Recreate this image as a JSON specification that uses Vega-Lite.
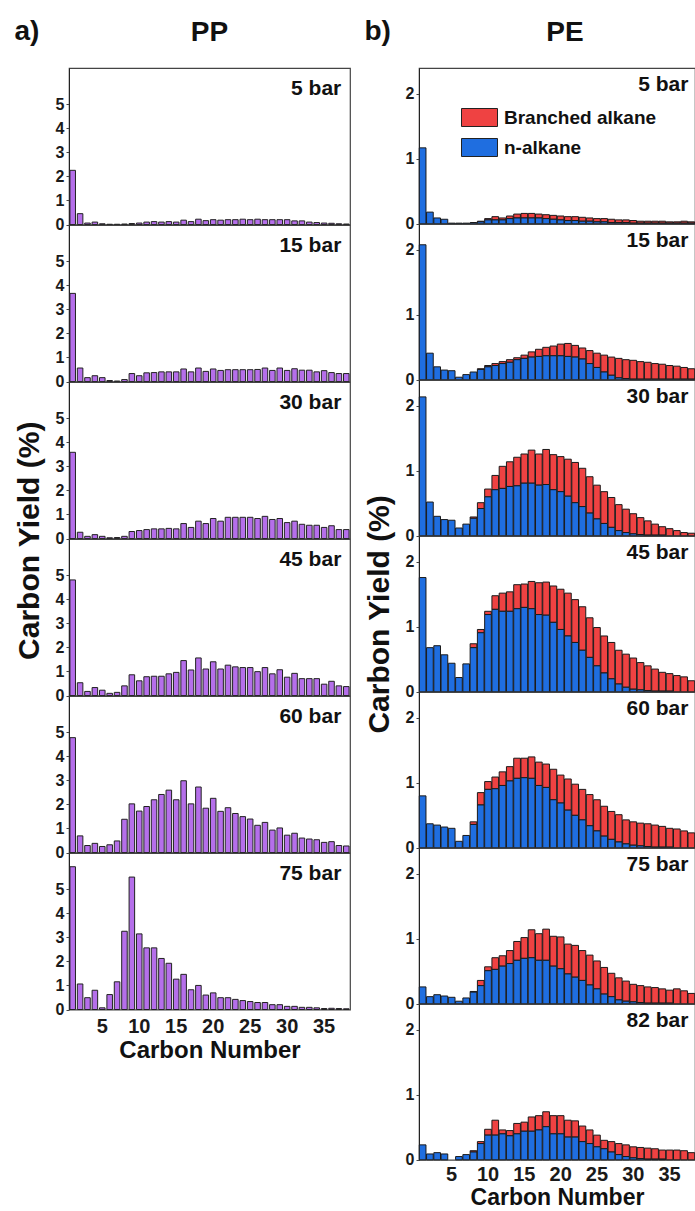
{
"$schema": "https://vega.github.io/schema/vega-lite/v6.json",
"padding": {"left": 14, "top": 18, "right": 0, "bottom": 0},
"background": "white",
"config": {
  "font": "Liberation Sans",
  "view": {"stroke": "#444", "strokeWidth": 1.2},
  "axis": {"grid": false, "labelFontWeight": "bold", "labelColor": "#1a1a1a", "domainColor": "#222", "tickColor": "#444", "tickSize": 3, "labelPadding": 2, "titleColor": "#111"}
},
"datasets": {
"pp5": [{"c":1,"y":2.25},{"c":2,"y":0.45},{"c":3,"y":0.06},{"c":4,"y":0.1},{"c":5,"y":0.03},{"c":6,"y":0.01},{"c":7,"y":0.01},{"c":8,"y":0.02},{"c":9,"y":0.04},{"c":10,"y":0.06},{"c":11,"y":0.1},{"c":12,"y":0.12},{"c":13,"y":0.1},{"c":14,"y":0.12},{"c":15,"y":0.1},{"c":16,"y":0.18},{"c":17,"y":0.12},{"c":18,"y":0.22},{"c":19,"y":0.16},{"c":20,"y":0.2},{"c":21,"y":0.18},{"c":22,"y":0.2},{"c":23,"y":0.2},{"c":24,"y":0.22},{"c":25,"y":0.2},{"c":26,"y":0.22},{"c":27,"y":0.2},{"c":28,"y":0.2},{"c":29,"y":0.2},{"c":30,"y":0.2},{"c":31,"y":0.15},{"c":32,"y":0.15},{"c":33,"y":0.1},{"c":34,"y":0.08},{"c":35,"y":0.06},{"c":36,"y":0.05},{"c":37,"y":0.03},{"c":38,"y":0.02}],
"pp15": [{"c":1,"y":3.66},{"c":2,"y":0.56},{"c":3,"y":0.16},{"c":4,"y":0.24},{"c":5,"y":0.16},{"c":6,"y":0.04},{"c":7,"y":0.02},{"c":8,"y":0.08},{"c":9,"y":0.33},{"c":10,"y":0.24},{"c":11,"y":0.36},{"c":12,"y":0.37},{"c":13,"y":0.4},{"c":14,"y":0.4},{"c":15,"y":0.4},{"c":16,"y":0.52},{"c":17,"y":0.4},{"c":18,"y":0.56},{"c":19,"y":0.42},{"c":20,"y":0.52},{"c":21,"y":0.46},{"c":22,"y":0.49},{"c":23,"y":0.49},{"c":24,"y":0.49},{"c":25,"y":0.49},{"c":26,"y":0.5},{"c":27,"y":0.56},{"c":28,"y":0.46},{"c":29,"y":0.56},{"c":30,"y":0.46},{"c":31,"y":0.53},{"c":32,"y":0.47},{"c":33,"y":0.47},{"c":34,"y":0.4},{"c":35,"y":0.45},{"c":36,"y":0.37},{"c":37,"y":0.33},{"c":38,"y":0.33}],
"pp30": [{"c":1,"y":3.58},{"c":2,"y":0.26},{"c":3,"y":0.09},{"c":4,"y":0.16},{"c":5,"y":0.09},{"c":6,"y":0.03},{"c":7,"y":0.04},{"c":8,"y":0.09},{"c":9,"y":0.29},{"c":10,"y":0.33},{"c":11,"y":0.37},{"c":12,"y":0.4},{"c":13,"y":0.4},{"c":14,"y":0.42},{"c":15,"y":0.4},{"c":16,"y":0.62},{"c":17,"y":0.46},{"c":18,"y":0.72},{"c":19,"y":0.62},{"c":20,"y":0.83},{"c":21,"y":0.72},{"c":22,"y":0.88},{"c":23,"y":0.88},{"c":24,"y":0.88},{"c":25,"y":0.88},{"c":26,"y":0.83},{"c":27,"y":0.92},{"c":28,"y":0.79},{"c":29,"y":0.83},{"c":30,"y":0.66},{"c":31,"y":0.72},{"c":32,"y":0.59},{"c":33,"y":0.55},{"c":34,"y":0.55},{"c":35,"y":0.46},{"c":36,"y":0.53},{"c":37,"y":0.37},{"c":38,"y":0.37}],
"pp45": [{"c":1,"y":4.8},{"c":2,"y":0.53},{"c":3,"y":0.17},{"c":4,"y":0.33},{"c":5,"y":0.22},{"c":6,"y":0.09},{"c":7,"y":0.13},{"c":8,"y":0.4},{"c":9,"y":0.86},{"c":10,"y":0.61},{"c":11,"y":0.78},{"c":12,"y":0.8},{"c":13,"y":0.8},{"c":14,"y":0.9},{"c":15,"y":0.96},{"c":16,"y":1.45},{"c":17,"y":1.06},{"c":18,"y":1.56},{"c":19,"y":1.1},{"c":20,"y":1.4},{"c":21,"y":1.1},{"c":22,"y":1.26},{"c":23,"y":1.19},{"c":24,"y":1.16},{"c":25,"y":1.16},{"c":26,"y":0.99},{"c":27,"y":1.16},{"c":28,"y":0.9},{"c":29,"y":1.07},{"c":30,"y":0.76},{"c":31,"y":0.92},{"c":32,"y":0.7},{"c":33,"y":0.7},{"c":34,"y":0.7},{"c":35,"y":0.47},{"c":36,"y":0.59},{"c":37,"y":0.4},{"c":38,"y":0.37}],
"pp60": [{"c":1,"y":4.77},{"c":2,"y":0.69},{"c":3,"y":0.29},{"c":4,"y":0.38},{"c":5,"y":0.25},{"c":6,"y":0.32},{"c":7,"y":0.48},{"c":8,"y":1.38},{"c":9,"y":2.02},{"c":10,"y":1.72},{"c":11,"y":1.91},{"c":12,"y":2.19},{"c":13,"y":2.41},{"c":14,"y":2.59},{"c":15,"y":2.19},{"c":16,"y":2.98},{"c":17,"y":2.02},{"c":18,"y":2.72},{"c":19,"y":1.84},{"c":20,"y":2.25},{"c":21,"y":1.71},{"c":22,"y":1.86},{"c":23,"y":1.62},{"c":24,"y":1.49},{"c":25,"y":1.39},{"c":26,"y":1.13},{"c":27,"y":1.25},{"c":28,"y":0.93},{"c":29,"y":1.02},{"c":30,"y":0.72},{"c":31,"y":0.8},{"c":32,"y":0.6},{"c":33,"y":0.56},{"c":34,"y":0.53},{"c":35,"y":0.42},{"c":36,"y":0.45},{"c":37,"y":0.29},{"c":38,"y":0.27}],
"pp75": [{"c":1,"y":5.93},{"c":2,"y":1.06},{"c":3,"y":0.49},{"c":4,"y":0.8},{"c":5,"y":0.07},{"c":6,"y":0.62},{"c":7,"y":1.15},{"c":8,"y":3.25},{"c":9,"y":5.5},{"c":10,"y":3.14},{"c":11,"y":2.56},{"c":12,"y":2.56},{"c":13,"y":2.12},{"c":14,"y":1.92},{"c":15,"y":1.26},{"c":16,"y":1.46},{"c":17,"y":0.82},{"c":18,"y":1.0},{"c":19,"y":0.6},{"c":20,"y":0.69},{"c":21,"y":0.49},{"c":22,"y":0.49},{"c":23,"y":0.42},{"c":24,"y":0.37},{"c":25,"y":0.33},{"c":26,"y":0.29},{"c":27,"y":0.29},{"c":28,"y":0.2},{"c":29,"y":0.2},{"c":30,"y":0.13},{"c":31,"y":0.13},{"c":32,"y":0.09},{"c":33,"y":0.09},{"c":34,"y":0.07},{"c":35,"y":0.04},{"c":36,"y":0.05},{"c":37,"y":0.04},{"c":38,"y":0.03}],
"pe5": [{"c":1,"n":1.17,"b":0},{"c":2,"n":0.18,"b":0},{"c":3,"n":0.09,"b":0},{"c":4,"n":0.07,"b":0},{"c":5,"n":0.01,"b":0},{"c":6,"n":0.01,"b":0},{"c":7,"n":0.01,"b":0},{"c":8,"n":0.02,"b":0},{"c":9,"n":0.03,"b":0.01},{"c":10,"n":0.06,"b":0.02},{"c":11,"n":0.06,"b":0.05},{"c":12,"n":0.06,"b":0.03},{"c":13,"n":0.08,"b":0.04},{"c":14,"n":0.09,"b":0.06},{"c":15,"n":0.09,"b":0.07},{"c":16,"n":0.09,"b":0.07},{"c":17,"n":0.09,"b":0.06},{"c":18,"n":0.08,"b":0.06},{"c":19,"n":0.07,"b":0.06},{"c":20,"n":0.06,"b":0.06},{"c":21,"n":0.05,"b":0.06},{"c":22,"n":0.05,"b":0.06},{"c":23,"n":0.04,"b":0.06},{"c":24,"n":0.04,"b":0.05},{"c":25,"n":0.03,"b":0.05},{"c":26,"n":0.03,"b":0.05},{"c":27,"n":0.02,"b":0.05},{"c":28,"n":0.02,"b":0.04},{"c":29,"n":0.02,"b":0.04},{"c":30,"n":0.01,"b":0.04},{"c":31,"n":0.01,"b":0.03},{"c":32,"n":0.01,"b":0.03},{"c":33,"n":0.01,"b":0.03},{"c":34,"n":0.01,"b":0.03},{"c":35,"n":0.01,"b":0.02},{"c":36,"n":0.01,"b":0.02},{"c":37,"n":0.01,"b":0.03},{"c":38,"n":0.01,"b":0.02}],
"pe15": [{"c":1,"n":2.08,"b":0},{"c":2,"n":0.41,"b":0},{"c":3,"n":0.2,"b":0},{"c":4,"n":0.15,"b":0},{"c":5,"n":0.14,"b":0},{"c":6,"n":0.04,"b":0},{"c":7,"n":0.08,"b":0},{"c":8,"n":0.12,"b":0},{"c":9,"n":0.16,"b":0.01},{"c":10,"n":0.2,"b":0.02},{"c":11,"n":0.22,"b":0.03},{"c":12,"n":0.25,"b":0.03},{"c":13,"n":0.27,"b":0.04},{"c":14,"n":0.31,"b":0.03},{"c":15,"n":0.33,"b":0.05},{"c":16,"n":0.35,"b":0.08},{"c":17,"n":0.36,"b":0.11},{"c":18,"n":0.37,"b":0.13},{"c":19,"n":0.37,"b":0.15},{"c":20,"n":0.37,"b":0.18},{"c":21,"n":0.36,"b":0.2},{"c":22,"n":0.35,"b":0.18},{"c":23,"n":0.32,"b":0.17},{"c":24,"n":0.25,"b":0.2},{"c":25,"n":0.19,"b":0.22},{"c":26,"n":0.12,"b":0.26},{"c":27,"n":0.07,"b":0.28},{"c":28,"n":0.03,"b":0.3},{"c":29,"n":0.02,"b":0.29},{"c":30,"n":0.01,"b":0.29},{"c":31,"n":0.01,"b":0.27},{"c":32,"n":0.01,"b":0.26},{"c":33,"n":0.01,"b":0.24},{"c":34,"n":0.01,"b":0.23},{"c":35,"n":0.01,"b":0.21},{"c":36,"n":0.01,"b":0.2},{"c":37,"n":0.01,"b":0.18},{"c":38,"n":0.01,"b":0.16}],
"pe30": [{"c":1,"n":2.14,"b":0},{"c":2,"n":0.52,"b":0},{"c":3,"n":0.3,"b":0},{"c":4,"n":0.25,"b":0},{"c":5,"n":0.24,"b":0},{"c":6,"n":0.12,"b":0},{"c":7,"n":0.18,"b":0},{"c":8,"n":0.27,"b":0.02},{"c":9,"n":0.42,"b":0.09},{"c":10,"n":0.6,"b":0.12},{"c":11,"n":0.71,"b":0.22},{"c":12,"n":0.73,"b":0.34},{"c":13,"n":0.76,"b":0.38},{"c":14,"n":0.77,"b":0.44},{"c":15,"n":0.81,"b":0.45},{"c":16,"n":0.81,"b":0.51},{"c":17,"n":0.78,"b":0.48},{"c":18,"n":0.79,"b":0.54},{"c":19,"n":0.71,"b":0.54},{"c":20,"n":0.68,"b":0.54},{"c":21,"n":0.61,"b":0.57},{"c":22,"n":0.51,"b":0.62},{"c":23,"n":0.45,"b":0.59},{"c":24,"n":0.35,"b":0.56},{"c":25,"n":0.26,"b":0.52},{"c":26,"n":0.19,"b":0.49},{"c":27,"n":0.13,"b":0.46},{"c":28,"n":0.08,"b":0.4},{"c":29,"n":0.05,"b":0.36},{"c":30,"n":0.03,"b":0.31},{"c":31,"n":0.02,"b":0.26},{"c":32,"n":0.01,"b":0.22},{"c":33,"n":0.01,"b":0.17},{"c":34,"n":0.01,"b":0.13},{"c":35,"n":0,"b":0.11},{"c":36,"n":0,"b":0.08},{"c":37,"n":0,"b":0.05},{"c":38,"n":0,"b":0.04}],
"pe45": [{"c":1,"n":1.76,"b":0},{"c":2,"n":0.68,"b":0},{"c":3,"n":0.71,"b":0},{"c":4,"n":0.57,"b":0},{"c":5,"n":0.44,"b":0},{"c":6,"n":0.22,"b":0},{"c":7,"n":0.43,"b":0},{"c":8,"n":0.68,"b":0.06},{"c":9,"n":0.91,"b":0.05},{"c":10,"n":1.19,"b":0.05},{"c":11,"n":1.27,"b":0.21},{"c":12,"n":1.24,"b":0.28},{"c":13,"n":1.24,"b":0.3},{"c":14,"n":1.28,"b":0.37},{"c":15,"n":1.3,"b":0.36},{"c":16,"n":1.28,"b":0.42},{"c":17,"n":1.19,"b":0.49},{"c":18,"n":1.18,"b":0.51},{"c":19,"n":1.07,"b":0.56},{"c":20,"n":0.96,"b":0.62},{"c":21,"n":0.86,"b":0.66},{"c":22,"n":0.76,"b":0.66},{"c":23,"n":0.64,"b":0.67},{"c":24,"n":0.53,"b":0.61},{"c":25,"n":0.4,"b":0.59},{"c":26,"n":0.29,"b":0.57},{"c":27,"n":0.2,"b":0.56},{"c":28,"n":0.12,"b":0.52},{"c":29,"n":0.07,"b":0.51},{"c":30,"n":0.04,"b":0.48},{"c":31,"n":0.03,"b":0.42},{"c":32,"n":0.02,"b":0.38},{"c":33,"n":0.01,"b":0.34},{"c":34,"n":0.01,"b":0.29},{"c":35,"n":0.01,"b":0.27},{"c":36,"n":0,"b":0.25},{"c":37,"n":0,"b":0.23},{"c":38,"n":0,"b":0.17}],
"pe60": [{"c":1,"n":0.8,"b":0},{"c":2,"n":0.37,"b":0},{"c":3,"n":0.35,"b":0},{"c":4,"n":0.32,"b":0},{"c":5,"n":0.3,"b":0},{"c":6,"n":0.1,"b":0},{"c":7,"n":0.19,"b":0},{"c":8,"n":0.36,"b":0.04},{"c":9,"n":0.66,"b":0.19},{"c":10,"n":0.9,"b":0.12},{"c":11,"n":0.91,"b":0.18},{"c":12,"n":0.96,"b":0.21},{"c":13,"n":1.03,"b":0.22},{"c":14,"n":1.07,"b":0.31},{"c":15,"n":1.08,"b":0.3},{"c":16,"n":1.07,"b":0.33},{"c":17,"n":0.96,"b":0.36},{"c":18,"n":0.93,"b":0.36},{"c":19,"n":0.74,"b":0.47},{"c":20,"n":0.69,"b":0.43},{"c":21,"n":0.58,"b":0.48},{"c":22,"n":0.5,"b":0.48},{"c":23,"n":0.43,"b":0.47},{"c":24,"n":0.34,"b":0.48},{"c":25,"n":0.26,"b":0.48},{"c":26,"n":0.18,"b":0.46},{"c":27,"n":0.13,"b":0.43},{"c":28,"n":0.09,"b":0.42},{"c":29,"n":0.06,"b":0.37},{"c":30,"n":0.04,"b":0.36},{"c":31,"n":0.03,"b":0.35},{"c":32,"n":0.02,"b":0.35},{"c":33,"n":0.01,"b":0.34},{"c":34,"n":0.01,"b":0.32},{"c":35,"n":0.01,"b":0.29},{"c":36,"n":0,"b":0.29},{"c":37,"n":0,"b":0.26},{"c":38,"n":0,"b":0.23}],
"pe75": [{"c":1,"n":0.26,"b":0},{"c":2,"n":0.11,"b":0},{"c":3,"n":0.14,"b":0},{"c":4,"n":0.12,"b":0},{"c":5,"n":0.1,"b":0},{"c":6,"n":0.04,"b":0},{"c":7,"n":0.09,"b":0},{"c":8,"n":0.18,"b":0.01},{"c":9,"n":0.28,"b":0.08},{"c":10,"n":0.51,"b":0.06},{"c":11,"n":0.53,"b":0.18},{"c":12,"n":0.58,"b":0.16},{"c":13,"n":0.62,"b":0.2},{"c":14,"n":0.67,"b":0.29},{"c":15,"n":0.7,"b":0.32},{"c":16,"n":0.71,"b":0.43},{"c":17,"n":0.67,"b":0.41},{"c":18,"n":0.67,"b":0.48},{"c":19,"n":0.58,"b":0.46},{"c":20,"n":0.54,"b":0.49},{"c":21,"n":0.46,"b":0.46},{"c":22,"n":0.41,"b":0.49},{"c":23,"n":0.36,"b":0.46},{"c":24,"n":0.29,"b":0.46},{"c":25,"n":0.23,"b":0.43},{"c":26,"n":0.15,"b":0.41},{"c":27,"n":0.11,"b":0.36},{"c":28,"n":0.06,"b":0.34},{"c":29,"n":0.04,"b":0.31},{"c":30,"n":0.03,"b":0.27},{"c":31,"n":0.02,"b":0.26},{"c":32,"n":0.01,"b":0.25},{"c":33,"n":0.01,"b":0.24},{"c":34,"n":0.01,"b":0.22},{"c":35,"n":0.01,"b":0.2},{"c":36,"n":0,"b":0.23},{"c":37,"n":0,"b":0.2},{"c":38,"n":0,"b":0.16}],
"pe82": [{"c":1,"n":0.23,"b":0},{"c":2,"n":0.09,"b":0},{"c":3,"n":0.11,"b":0},{"c":4,"n":0.09,"b":0},{"c":5,"n":0,"b":0},{"c":6,"n":0.05,"b":0},{"c":7,"n":0.08,"b":0},{"c":8,"n":0.12,"b":0.02},{"c":9,"n":0.25,"b":0.03},{"c":10,"n":0.38,"b":0.09},{"c":11,"n":0.38,"b":0.23},{"c":12,"n":0.4,"b":0.06},{"c":13,"n":0.37,"b":0.08},{"c":14,"n":0.4,"b":0.16},{"c":15,"n":0.44,"b":0.14},{"c":16,"n":0.44,"b":0.22},{"c":17,"n":0.46,"b":0.22},{"c":18,"n":0.51,"b":0.23},{"c":19,"n":0.4,"b":0.28},{"c":20,"n":0.4,"b":0.28},{"c":21,"n":0.35,"b":0.26},{"c":22,"n":0.35,"b":0.25},{"c":23,"n":0.28,"b":0.24},{"c":24,"n":0.25,"b":0.21},{"c":25,"n":0.2,"b":0.18},{"c":26,"n":0.17,"b":0.13},{"c":27,"n":0.12,"b":0.16},{"c":28,"n":0.08,"b":0.17},{"c":29,"n":0.05,"b":0.18},{"c":30,"n":0.03,"b":0.17},{"c":31,"n":0.02,"b":0.17},{"c":32,"n":0.01,"b":0.17},{"c":33,"n":0.01,"b":0.16},{"c":34,"n":0.01,"b":0.14},{"c":35,"n":0,"b":0.15},{"c":36,"n":0,"b":0.15},{"c":37,"n":0,"b":0.14},{"c":38,"n":0,"b":0.11}]
},
"spacing": 13,
"hconcat": [
{
 "title": {"text": "a)", "anchor": "start", "frame": "bounds", "fontSize": 28, "fontWeight": "bold", "baseline": "alphabetic", "offset": -50, "color": "#111"},
 "vconcat": [{
  "title": {"text": "Carbon Yield (%)", "orient": "left", "anchor": "middle", "fontSize": 30, "fontWeight": "bold", "offset": 10, "color": "#111"},
  "spacing": 0,
  "bounds": "flush",
  "vconcat": [
   {"width": 281, "height": 156.5,
    "title": {"text": "PP", "anchor": "middle", "frame": "group", "fontSize": 28, "fontWeight": "bold", "baseline": "alphabetic", "offset": -1, "color": "#111"},
    "layer": [
     {"data": {"name": "pp5"}, "mark": {"type": "bar", "fill": "#b56fea", "stroke": "#222", "strokeWidth": 1},
      "encoding": {"x": {"field": "c", "type": "ordinal", "scale": {"domain": [1,2,3,4,5,6,7,8,9,10,11,12,13,14,15,16,17,18,19,20,21,22,23,24,25,26,27,28,29,30,31,32,33,34,35,36,37,38], "paddingInner": 0.25, "paddingOuter": 0.125}, "axis": null},
       "y": {"field": "y", "type": "quantitative", "scale": {"domain": [0, 6.2]}, "axis": {"values": [0,1,2,3,4,5], "title": null, "labelFontSize": 16}}}},
     {"data": {"values": [{"label": "5 bar"}]}, "mark": {"type": "text", "align": "right", "baseline": "alphabetic", "dx": -5, "fontSize": 21, "fontWeight": "bold", "color": "#111"},
      "encoding": {"x": {"datum": 38, "type": "ordinal", "axis": null}, "y": {"datum": 5.37, "type": "quantitative", "axis": {"values": [0,1,2,3,4,5], "title": null, "labelFontSize": 16}}, "text": {"field": "label"}}}
    ]},
   {"width": 281, "height": 156.5,
    "layer": [
     {"data": {"name": "pp15"}, "mark": {"type": "bar", "fill": "#b56fea", "stroke": "#222", "strokeWidth": 1},
      "encoding": {"x": {"field": "c", "type": "ordinal", "scale": {"domain": [1,2,3,4,5,6,7,8,9,10,11,12,13,14,15,16,17,18,19,20,21,22,23,24,25,26,27,28,29,30,31,32,33,34,35,36,37,38], "paddingInner": 0.25, "paddingOuter": 0.125}, "axis": null},
       "y": {"field": "y", "type": "quantitative", "scale": {"domain": [0, 6.2]}, "axis": {"values": [0,1,2,3,4,5], "title": null, "labelFontSize": 16}}}},
     {"data": {"values": [{"label": "15 bar"}]}, "mark": {"type": "text", "align": "right", "baseline": "alphabetic", "dx": -5, "fontSize": 21, "fontWeight": "bold", "color": "#111"},
      "encoding": {"x": {"datum": 38, "type": "ordinal", "axis": null}, "y": {"datum": 5.37, "type": "quantitative", "axis": {"values": [0,1,2,3,4,5], "title": null, "labelFontSize": 16}}, "text": {"field": "label"}}}
    ]},
   {"width": 281, "height": 156.5,
    "layer": [
     {"data": {"name": "pp30"}, "mark": {"type": "bar", "fill": "#b56fea", "stroke": "#222", "strokeWidth": 1},
      "encoding": {"x": {"field": "c", "type": "ordinal", "scale": {"domain": [1,2,3,4,5,6,7,8,9,10,11,12,13,14,15,16,17,18,19,20,21,22,23,24,25,26,27,28,29,30,31,32,33,34,35,36,37,38], "paddingInner": 0.25, "paddingOuter": 0.125}, "axis": null},
       "y": {"field": "y", "type": "quantitative", "scale": {"domain": [0, 6.2]}, "axis": {"values": [0,1,2,3,4,5], "title": null, "labelFontSize": 16}}}},
     {"data": {"values": [{"label": "30 bar"}]}, "mark": {"type": "text", "align": "right", "baseline": "alphabetic", "dx": -5, "fontSize": 21, "fontWeight": "bold", "color": "#111"},
      "encoding": {"x": {"datum": 38, "type": "ordinal", "axis": null}, "y": {"datum": 5.37, "type": "quantitative", "axis": {"values": [0,1,2,3,4,5], "title": null, "labelFontSize": 16}}, "text": {"field": "label"}}}
    ]},
   {"width": 281, "height": 156.5,
    "layer": [
     {"data": {"name": "pp45"}, "mark": {"type": "bar", "fill": "#b56fea", "stroke": "#222", "strokeWidth": 1},
      "encoding": {"x": {"field": "c", "type": "ordinal", "scale": {"domain": [1,2,3,4,5,6,7,8,9,10,11,12,13,14,15,16,17,18,19,20,21,22,23,24,25,26,27,28,29,30,31,32,33,34,35,36,37,38], "paddingInner": 0.25, "paddingOuter": 0.125}, "axis": null},
       "y": {"field": "y", "type": "quantitative", "scale": {"domain": [0, 6.2]}, "axis": {"values": [0,1,2,3,4,5], "title": null, "labelFontSize": 16}}}},
     {"data": {"values": [{"label": "45 bar"}]}, "mark": {"type": "text", "align": "right", "baseline": "alphabetic", "dx": -5, "fontSize": 21, "fontWeight": "bold", "color": "#111"},
      "encoding": {"x": {"datum": 38, "type": "ordinal", "axis": null}, "y": {"datum": 5.37, "type": "quantitative", "axis": {"values": [0,1,2,3,4,5], "title": null, "labelFontSize": 16}}, "text": {"field": "label"}}}
    ]},
   {"width": 281, "height": 156.5,
    "layer": [
     {"data": {"name": "pp60"}, "mark": {"type": "bar", "fill": "#b56fea", "stroke": "#222", "strokeWidth": 1},
      "encoding": {"x": {"field": "c", "type": "ordinal", "scale": {"domain": [1,2,3,4,5,6,7,8,9,10,11,12,13,14,15,16,17,18,19,20,21,22,23,24,25,26,27,28,29,30,31,32,33,34,35,36,37,38], "paddingInner": 0.25, "paddingOuter": 0.125}, "axis": null},
       "y": {"field": "y", "type": "quantitative", "scale": {"domain": [0, 6.2]}, "axis": {"values": [0,1,2,3,4,5], "title": null, "labelFontSize": 16}}}},
     {"data": {"values": [{"label": "60 bar"}]}, "mark": {"type": "text", "align": "right", "baseline": "alphabetic", "dx": -5, "fontSize": 21, "fontWeight": "bold", "color": "#111"},
      "encoding": {"x": {"datum": 38, "type": "ordinal", "axis": null}, "y": {"datum": 5.37, "type": "quantitative", "axis": {"values": [0,1,2,3,4,5], "title": null, "labelFontSize": 16}}, "text": {"field": "label"}}}
    ]},
   {"width": 281, "height": 156.5,
    "layer": [
     {"data": {"name": "pp75"}, "mark": {"type": "bar", "fill": "#b56fea", "stroke": "#222", "strokeWidth": 1},
      "encoding": {"x": {"field": "c", "type": "ordinal", "scale": {"domain": [1,2,3,4,5,6,7,8,9,10,11,12,13,14,15,16,17,18,19,20,21,22,23,24,25,26,27,28,29,30,31,32,33,34,35,36,37,38], "paddingInner": 0.25, "paddingOuter": 0.125},
         "axis": {"values": [5,10,15,20,25,30,35], "labelAngle": 0, "labelFontSize": 20, "ticks": false, "domain": false, "labelPadding": 7, "title": "Carbon Number", "titleFontSize": 24, "titleFontWeight": "bold", "titlePadding": 2}},
       "y": {"field": "y", "type": "quantitative", "scale": {"domain": [0, 6.2]}, "axis": {"values": [0,1,2,3,4,5], "title": null, "labelFontSize": 16}}}},
     {"data": {"values": [{"label": "75 bar"}]}, "mark": {"type": "text", "align": "right", "baseline": "alphabetic", "dx": -5, "fontSize": 21, "fontWeight": "bold", "color": "#111"},
      "encoding": {"x": {"datum": 38, "type": "ordinal", "axis": {"values": [5,10,15,20,25,30,35], "labelAngle": 0, "labelFontSize": 20, "ticks": false, "domain": false, "labelPadding": 7, "title": "Carbon Number", "titleFontSize": 24, "titleFontWeight": "bold", "titlePadding": 2}}, "y": {"datum": 5.37, "type": "quantitative", "axis": {"values": [0,1,2,3,4,5], "title": null, "labelFontSize": 16}}, "text": {"field": "label"}}}
    ]}
  ]
 }]
},
{
 "title": {"text": "b)", "anchor": "start", "frame": "bounds", "fontSize": 28, "fontWeight": "bold", "baseline": "alphabetic", "offset": -50, "color": "#111"},
 "vconcat": [{
  "title": {"text": "Carbon Yield (%)", "orient": "left", "anchor": "middle", "fontSize": 30, "fontWeight": "bold", "offset": 10, "color": "#111"},
  "spacing": 0,
  "bounds": "flush",
  "resolve": {"scale": {"color": "independent"}},
  "vconcat": [
   {"width": 276, "height": 155.8,
    "title": {"text": "PE", "anchor": "middle", "frame": "group", "fontSize": 28, "fontWeight": "bold", "baseline": "alphabetic", "offset": -1, "dx": 8, "color": "#111"},
    "layer": [
     {"data": {"name": "pe5"}, "transform": [{"fold": ["b", "n"], "as": ["type", "v"]}, {"filter": "datum.v > 0"}],
      "mark": {"type": "bar", "stroke": "#1a1a1a", "strokeWidth": 1},
      "encoding": {"x": {"field": "c", "type": "ordinal", "scale": {"domain": [1,2,3,4,5,6,7,8,9,10,11,12,13,14,15,16,17,18,19,20,21,22,23,24,25,26,27,28,29,30,31,32,33,34,35,36,37,38], "paddingInner": 0.08, "paddingOuter": 0.04}, "axis": null},
       "y": {"field": "v", "type": "quantitative", "stack": "zero", "scale": {"domain": [0, 2.37]}, "axis": {"values": [0,1,2], "title": null, "labelFontSize": 16}},
       "color": {"field": "type", "type": "nominal", "scale": {"domain": ["b", "n"], "range": ["#ef4242", "#1f6ee0"]},
         "legend": {"orient": "none", "legendX": 51, "legendY": 40, "title": null, "symbolType": "M-2,-1H2V1H-2Z", "symbolSize": 324, "symbolStrokeColor": "#222", "symbolStrokeWidth": 1, "symbolOpacity": 1, "labelFontSize": 19, "labelFontWeight": "bold", "labelColor": "#111", "labelOffset": 15, "rowPadding": 7, "padding": 0,
           "labelExpr": "datum.label == 'b' ? 'Branched alkane' : 'n-alkane'"}},
       "order": {"field": "type", "sort": "descending"}}},
     {"data": {"values": [{"label": "5 bar"}]}, "mark": {"type": "text", "align": "right", "baseline": "alphabetic", "dx": -3, "fontSize": 21, "fontWeight": "bold", "color": "#111"},
      "encoding": {"x": {"datum": 38, "type": "ordinal", "axis": null}, "y": {"datum": 2.04, "type": "quantitative", "axis": {"values": [0,1,2], "title": null, "labelFontSize": 16}}, "text": {"field": "label"}}}
    ]},
   {"width": 276, "height": 155.8,
    "layer": [
     {"data": {"name": "pe15"}, "transform": [{"fold": ["b", "n"], "as": ["type", "v"]}, {"filter": "datum.v > 0"}],
      "mark": {"type": "bar", "stroke": "#1a1a1a", "strokeWidth": 1},
      "encoding": {"x": {"field": "c", "type": "ordinal", "scale": {"domain": [1,2,3,4,5,6,7,8,9,10,11,12,13,14,15,16,17,18,19,20,21,22,23,24,25,26,27,28,29,30,31,32,33,34,35,36,37,38], "paddingInner": 0.08, "paddingOuter": 0.04}, "axis": null},
       "y": {"field": "v", "type": "quantitative", "stack": "zero", "scale": {"domain": [0, 2.37]}, "axis": {"values": [0,1,2], "title": null, "labelFontSize": 16}},
       "color": {"field": "type", "type": "nominal", "scale": {"domain": ["b", "n"], "range": ["#ef4242", "#1f6ee0"]}, "legend": null},
       "order": {"field": "type", "sort": "descending"}}},
     {"data": {"values": [{"label": "15 bar"}]}, "mark": {"type": "text", "align": "right", "baseline": "alphabetic", "dx": -3, "fontSize": 21, "fontWeight": "bold", "color": "#111"},
      "encoding": {"x": {"datum": 38, "type": "ordinal", "axis": null}, "y": {"datum": 2.04, "type": "quantitative", "axis": {"values": [0,1,2], "title": null, "labelFontSize": 16}}, "text": {"field": "label"}}}
    ]},
   {"width": 276, "height": 155.8,
    "layer": [
     {"data": {"name": "pe30"}, "transform": [{"fold": ["b", "n"], "as": ["type", "v"]}, {"filter": "datum.v > 0"}],
      "mark": {"type": "bar", "stroke": "#1a1a1a", "strokeWidth": 1},
      "encoding": {"x": {"field": "c", "type": "ordinal", "scale": {"domain": [1,2,3,4,5,6,7,8,9,10,11,12,13,14,15,16,17,18,19,20,21,22,23,24,25,26,27,28,29,30,31,32,33,34,35,36,37,38], "paddingInner": 0.08, "paddingOuter": 0.04}, "axis": null},
       "y": {"field": "v", "type": "quantitative", "stack": "zero", "scale": {"domain": [0, 2.37]}, "axis": {"values": [0,1,2], "title": null, "labelFontSize": 16}},
       "color": {"field": "type", "type": "nominal", "scale": {"domain": ["b", "n"], "range": ["#ef4242", "#1f6ee0"]}, "legend": null},
       "order": {"field": "type", "sort": "descending"}}},
     {"data": {"values": [{"label": "30 bar"}]}, "mark": {"type": "text", "align": "right", "baseline": "alphabetic", "dx": -3, "fontSize": 21, "fontWeight": "bold", "color": "#111"},
      "encoding": {"x": {"datum": 38, "type": "ordinal", "axis": null}, "y": {"datum": 2.04, "type": "quantitative", "axis": {"values": [0,1,2], "title": null, "labelFontSize": 16}}, "text": {"field": "label"}}}
    ]},
   {"width": 276, "height": 155.8,
    "layer": [
     {"data": {"name": "pe45"}, "transform": [{"fold": ["b", "n"], "as": ["type", "v"]}, {"filter": "datum.v > 0"}],
      "mark": {"type": "bar", "stroke": "#1a1a1a", "strokeWidth": 1},
      "encoding": {"x": {"field": "c", "type": "ordinal", "scale": {"domain": [1,2,3,4,5,6,7,8,9,10,11,12,13,14,15,16,17,18,19,20,21,22,23,24,25,26,27,28,29,30,31,32,33,34,35,36,37,38], "paddingInner": 0.08, "paddingOuter": 0.04}, "axis": null},
       "y": {"field": "v", "type": "quantitative", "stack": "zero", "scale": {"domain": [0, 2.37]}, "axis": {"values": [0,1,2], "title": null, "labelFontSize": 16}},
       "color": {"field": "type", "type": "nominal", "scale": {"domain": ["b", "n"], "range": ["#ef4242", "#1f6ee0"]}, "legend": null},
       "order": {"field": "type", "sort": "descending"}}},
     {"data": {"values": [{"label": "45 bar"}]}, "mark": {"type": "text", "align": "right", "baseline": "alphabetic", "dx": -3, "fontSize": 21, "fontWeight": "bold", "color": "#111"},
      "encoding": {"x": {"datum": 38, "type": "ordinal", "axis": null}, "y": {"datum": 2.04, "type": "quantitative", "axis": {"values": [0,1,2], "title": null, "labelFontSize": 16}}, "text": {"field": "label"}}}
    ]},
   {"width": 276, "height": 155.8,
    "layer": [
     {"data": {"name": "pe60"}, "transform": [{"fold": ["b", "n"], "as": ["type", "v"]}, {"filter": "datum.v > 0"}],
      "mark": {"type": "bar", "stroke": "#1a1a1a", "strokeWidth": 1},
      "encoding": {"x": {"field": "c", "type": "ordinal", "scale": {"domain": [1,2,3,4,5,6,7,8,9,10,11,12,13,14,15,16,17,18,19,20,21,22,23,24,25,26,27,28,29,30,31,32,33,34,35,36,37,38], "paddingInner": 0.08, "paddingOuter": 0.04}, "axis": null},
       "y": {"field": "v", "type": "quantitative", "stack": "zero", "scale": {"domain": [0, 2.37]}, "axis": {"values": [0,1,2], "title": null, "labelFontSize": 16}},
       "color": {"field": "type", "type": "nominal", "scale": {"domain": ["b", "n"], "range": ["#ef4242", "#1f6ee0"]}, "legend": null},
       "order": {"field": "type", "sort": "descending"}}},
     {"data": {"values": [{"label": "60 bar"}]}, "mark": {"type": "text", "align": "right", "baseline": "alphabetic", "dx": -3, "fontSize": 21, "fontWeight": "bold", "color": "#111"},
      "encoding": {"x": {"datum": 38, "type": "ordinal", "axis": null}, "y": {"datum": 2.04, "type": "quantitative", "axis": {"values": [0,1,2], "title": null, "labelFontSize": 16}}, "text": {"field": "label"}}}
    ]},
   {"width": 276, "height": 155.8,
    "layer": [
     {"data": {"name": "pe75"}, "transform": [{"fold": ["b", "n"], "as": ["type", "v"]}, {"filter": "datum.v > 0"}],
      "mark": {"type": "bar", "stroke": "#1a1a1a", "strokeWidth": 1},
      "encoding": {"x": {"field": "c", "type": "ordinal", "scale": {"domain": [1,2,3,4,5,6,7,8,9,10,11,12,13,14,15,16,17,18,19,20,21,22,23,24,25,26,27,28,29,30,31,32,33,34,35,36,37,38], "paddingInner": 0.08, "paddingOuter": 0.04}, "axis": null},
       "y": {"field": "v", "type": "quantitative", "stack": "zero", "scale": {"domain": [0, 2.37]}, "axis": {"values": [0,1,2], "title": null, "labelFontSize": 16}},
       "color": {"field": "type", "type": "nominal", "scale": {"domain": ["b", "n"], "range": ["#ef4242", "#1f6ee0"]}, "legend": null},
       "order": {"field": "type", "sort": "descending"}}},
     {"data": {"values": [{"label": "75 bar"}]}, "mark": {"type": "text", "align": "right", "baseline": "alphabetic", "dx": -3, "fontSize": 21, "fontWeight": "bold", "color": "#111"},
      "encoding": {"x": {"datum": 38, "type": "ordinal", "axis": null}, "y": {"datum": 2.04, "type": "quantitative", "axis": {"values": [0,1,2], "title": null, "labelFontSize": 16}}, "text": {"field": "label"}}}
    ]},
   {"width": 276, "height": 155.8,
    "layer": [
     {"data": {"name": "pe82"}, "transform": [{"fold": ["b", "n"], "as": ["type", "v"]}, {"filter": "datum.v > 0"}],
      "mark": {"type": "bar", "stroke": "#1a1a1a", "strokeWidth": 1},
      "encoding": {"x": {"field": "c", "type": "ordinal", "scale": {"domain": [1,2,3,4,5,6,7,8,9,10,11,12,13,14,15,16,17,18,19,20,21,22,23,24,25,26,27,28,29,30,31,32,33,34,35,36,37,38], "paddingInner": 0.08, "paddingOuter": 0.04},
         "axis": {"values": [5,10,15,20,25,30,35], "labelAngle": 0, "labelFontSize": 20, "ticks": false, "domain": false, "labelPadding": 5, "title": "Carbon Number", "titleFontSize": 23, "titleFontWeight": "bold", "titlePadding": 2}},
       "y": {"field": "v", "type": "quantitative", "stack": "zero", "scale": {"domain": [0, 2.37]}, "axis": {"values": [0,1,2], "title": null, "labelFontSize": 16}},
       "color": {"field": "type", "type": "nominal", "scale": {"domain": ["b", "n"], "range": ["#ef4242", "#1f6ee0"]}, "legend": null},
       "order": {"field": "type", "sort": "descending"}}},
     {"data": {"values": [{"label": "82 bar"}]}, "mark": {"type": "text", "align": "right", "baseline": "alphabetic", "dx": -3, "fontSize": 21, "fontWeight": "bold", "color": "#111"},
      "encoding": {"x": {"datum": 38, "type": "ordinal", "axis": {"values": [5,10,15,20,25,30,35], "labelAngle": 0, "labelFontSize": 20, "ticks": false, "domain": false, "labelPadding": 5, "title": "Carbon Number", "titleFontSize": 23, "titleFontWeight": "bold", "titlePadding": 2}}, "y": {"datum": 2.04, "type": "quantitative", "axis": {"values": [0,1,2], "title": null, "labelFontSize": 16}}, "text": {"field": "label"}}}
    ]}
  ]
 }]
}
]
}
